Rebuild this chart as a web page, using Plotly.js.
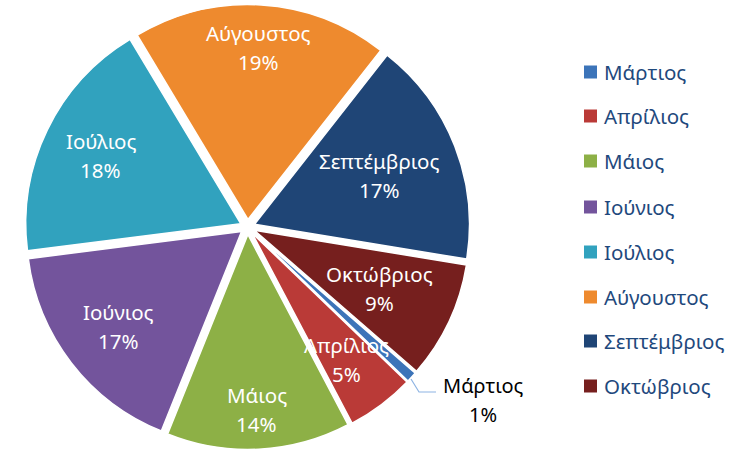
<!DOCTYPE html>
<html>
<head>
<meta charset="utf-8">
<script src="https://cdn.plot.ly/plotly-3.0.1.min.js"></script>
<style>html,body{margin:0;padding:0;background:#fff;}#chart{width:742px;height:456px;}</style>
</head>
<body>
<div id="chart"></div>
<script>
// Data
const months = ["Μάρτιος","Απρίλιος","Μάιος","Ιούνιος","Ιούλιος","Αύγουστος","Σεπτέμβριος","Οκτώβριος"];
const shares = [0.8, 5.1, 13.8, 16.9, 18.4, 19.2, 17.0, 8.8];
const colors = ["#3C74B9","#BA3A37","#8DB046","#73549C","#31A2BE","#EE8A2E","#1F4576","#761F1E"];

// Style: label distance from centre (fraction of radius), 0 = outside label
const labelDist = [0, 0.77, 0.85, 0.76, 0.76, 0.836, 0.657, 0.678];

const W = 742, H = 456;
const px = x => x / W;
const py = y => 1 - y / H;
const FONT = "Noto Sans, Open Sans, sans-serif";
const ROT = 131, PULL = 0.035;

const dom = { x0: 25, x1: 470, y0: 3, y1: 451 };
const trace = {
  type: "pie",
  labels: months,
  values: shares,
  sort: false,
  direction: "clockwise",
  rotation: ROT,
  pull: PULL,
  marker: { colors: colors, line: { color: "#ffffff", width: 1.5 } },
  textinfo: "none",
  hoverinfo: "label+percent",
  showlegend: false,
  domain: { x: [px(dom.x0), px(dom.x1)], y: [py(dom.y1), py(dom.y0)] }
};

// Pie geometry (same as the library's: radius reduced by pull)
const cx = (dom.x0 + dom.x1) / 2, cy = (dom.y0 + dom.y1) / 2;
const R = Math.min(dom.x1 - dom.x0, dom.y1 - dom.y0) / 2 / (1 + PULL);
const total = shares.reduce((a, b) => a + b, 0);

const shapes = [];
const annotations = [];

function twoLine(x, y, l1, l2, color, size) {
  [[l1, -14.5], [l2, 14.5]].forEach(([t, dy]) => {
    annotations.push({
      xref: "paper", yref: "paper", x: px(x), y: py(y + dy),
      xanchor: "center", yanchor: "middle", showarrow: false,
      text: t, font: { family: FONT, size: size, color: color }
    });
  });
}

// Slice labels
let cum = 0;
months.forEach((m, i) => {
  const mid = cum + shares[i] / 2;
  cum += shares[i];
  const pct = Math.round(100 * shares[i] / total) + "%";
  if (labelDist[i] > 0) {
    const th = (ROT + 360 * mid / total) * Math.PI / 180;
    const d = labelDist[i] * R;
    twoLine(cx + d * Math.sin(th), cy - d * Math.cos(th), m, pct, "#ffffff", 20.5);
  } else {
    twoLine(483, 399.5, m, pct, "#000000", 20);
  }
});
shapes.push({
  type: "path", xref: "paper", yref: "paper",
  path: `M ${px(411)} ${py(379)} L ${px(419)} ${py(392)} L ${px(436)} ${py(392)}`,
  line: { color: "#8EB4E3", width: 1.2 }
});

// Manual legend built from data arrays
const legendY = [72, 116, 161, 207, 252, 297, 341, 386];
months.forEach((m, i) => {
  shapes.push({
    type: "rect", xref: "paper", yref: "paper",
    x0: px(584), x1: px(597), y0: py(legendY[i] + 6.5), y1: py(legendY[i] - 6.5),
    fillcolor: colors[i], line: { width: 0 }
  });
  annotations.push({
    xref: "paper", yref: "paper", x: px(602), y: py(legendY[i]),
    xanchor: "left", yanchor: "middle", showarrow: false,
    text: m, font: { family: FONT, size: 20.5, color: "#1F497D" }
  });
});

const layout = {
  width: W, height: H,
  margin: { l: 0, r: 0, t: 0, b: 0 },
  paper_bgcolor: "#ffffff",
  showlegend: false,
  shapes: shapes,
  annotations: annotations,
  font: { family: FONT }
};

Plotly.newPlot("chart", [trace], layout, { displayModeBar: false, staticPlot: true });
</script>
</body>
</html>
